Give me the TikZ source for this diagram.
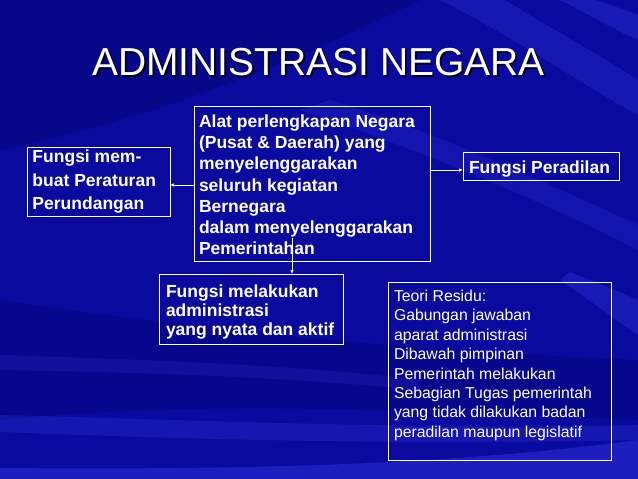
\documentclass[tikz,border=0pt]{standalone}
\usepackage{fontspec}
\setmainfont{Liberation Sans}
\usetikzlibrary{arrows.meta}
\definecolor{bg}{RGB}{10,10,158}
\definecolor{bgdark}{RGB}{5,5,125}
\definecolor{streak}{RGB}{70,70,250}
% width, height, left pad, top pad, font, content
\newcommand\boxtxt[6]{\vbox to #2{\hsize=#1\relax\leftskip=#3\relax\parindent=0pt\rightskip=0pt plus 1fil\parfillskip=0pt plus 1fil\vskip#4\relax #5\noindent #6\par\vfill}}
\tikzset{
  boxst/.style={draw=white, line width=0.8pt, inner sep=0pt, outer sep=0pt, text=white, anchor=north west},
  arr/.style={draw=white, line width=0.8pt, -{Latex[length=4pt,width=3.5pt]}},
  titlest/.style={font=\fontsize{39}{44}\selectfont, anchor=base, inner sep=0pt}
}
\begin{document}
\begin{tikzpicture}[x=1pt,y=-1pt]
\useasboundingbox (0,0) rectangle (638,479);
% background
\fill[bg] (0,0) rectangle (638,479);
\fill[bgdark, opacity=.6] (0,0) -- (420,0) .. controls (300,60) and (150,120) .. (0,150) -- cycle;
\fill[bgdark, opacity=.5] (0,300) .. controls (200,330) and (400,350) .. (638,360) -- (638,420) .. controls (400,410) and (200,400) .. (0,420) -- cycle;
\fill[streak, opacity=.22] (440,0) .. controls (520,40) and (590,90) .. (638,115) -- (638,80) .. controls (600,55) and (545,25) .. (505,0) -- cycle;
\fill[streak, opacity=.25] (560,0) .. controls (590,15) and (615,30) .. (638,40) -- (638,15) .. controls (620,8) and (605,3) .. (595,0) -- cycle;
\fill[streak, opacity=.18] (300,110) .. controls (420,150) and (540,200) .. (638,250) -- (638,225) .. controls (540,180) and (430,130) .. (330,100) -- cycle;
\fill[streak, opacity=.25] (560,280) .. controls (590,300) and (615,320) .. (638,335) -- (638,300) .. controls (615,290) and (590,280) .. (570,272) -- cycle;
\fill[streak, opacity=.15] (0,355) .. controls (150,360) and (300,365) .. (420,380) -- (420,390) .. controls (300,378) and (150,372) .. (0,370) -- cycle;
\fill[streak, opacity=.2] (0,415) .. controls (200,420) and (420,430) .. (638,425) -- (638,440) .. controls (420,445) and (200,440) .. (0,432) -- cycle;
\fill[streak, opacity=.35] (0,468) .. controls (250,470) and (450,465) .. (638,440) -- (638,479) -- (0,479) -- cycle;
% title
\node[titlest, text=black, opacity=.8] (tsh) at (320.5,77) {ADMINISTRASI NEGARA};
\node[titlest, text=white] (t) at (318.5,75) {ADMINISTRASI NEGARA};
% boxes
\node[boxst] (c) at (194,106) {\boxtxt{236pt}{155pt}{5pt}{8.5pt}{\fontsize{17.5}{21.3}\selectfont\bfseries}{Alat perlengkapan Negara\\(Pusat \& Daerah) yang\\menyelenggarakan\\seluruh kegiatan\\Bernegara\\dalam menyelenggarakan\\Pemerintahan}};
\node[boxst] (l) at (27,147) {\boxtxt{143pt}{69pt}{5.5pt}{3pt}{\fontsize{17.5}{23.5}\selectfont\bfseries}{Fungsi mem-\\buat Peraturan\\Perundangan}};
\node[boxst] (r) at (463,152) {\boxtxt{156pt}{28pt}{6pt}{8.5pt}{\fontsize{17.5}{21}\selectfont\bfseries}{Fungsi Peradilan}};
\node[boxst] (b) at (159,274) {\boxtxt{184pt}{70pt}{7pt}{10.5pt}{\fontsize{17.5}{19.3}\selectfont\bfseries}{Fungsi melakukan\\administrasi\\yang nyata dan aktif}};
\node[boxst] (tr) at (388,282) {\boxtxt{223pt}{178pt}{6pt}{8pt}{\fontsize{15.8}{19.4}\selectfont}{Teori Residu:\\Gabungan jawaban\\aparat administrasi\\Dibawah pimpinan\\Pemerintah melakukan\\Sebagian Tugas pemerintah\\yang tidak dilakukan badan\\peradilan maupun legislatif}};
% connectors
\draw[arr] (c.west |- 0,185) -- (l.east |- 0,185);
\draw[arr] (c.east |- 0,170) -- (r.west |- 0,170);
\coordinate (s) at (292,238);
\draw[arr] (s) -- (s |- b.north);
\end{tikzpicture}
\end{document}
